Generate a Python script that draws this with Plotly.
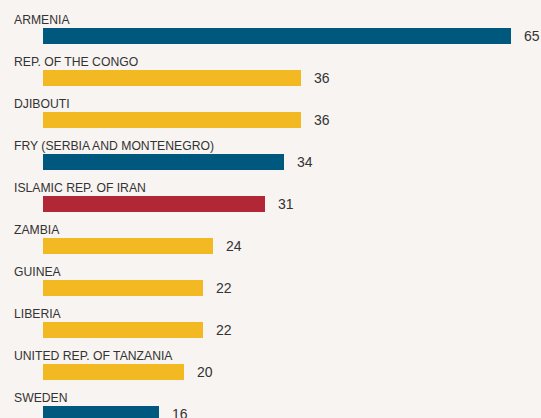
import plotly.graph_objects as go

# ─── Data ─────────────────────────────────────────────────────────────────────

countries = [
    "ARMENIA", "REP. OF THE CONGO", "DJIBOUTI", "FRY (SERBIA AND MONTENEGRO)",
    "ISLAMIC REP. OF IRAN", "ZAMBIA", "GUINEA", "LIBERIA",
    "UNITED REP. OF TANZANIA", "SWEDEN",
]
values = [65, 35.9, 35.8, 33.5, 30.8, 23.6, 22.2, 22.2, 19.6, 16.1]
value_labels = ["65", "36", "36", "34", "31", "24", "22", "22", "20", "16"]
regions = ["Europe", "Africa", "Africa", "Europe", "Asia",
           "Africa", "Africa", "Africa", "Africa", "Europe"]

REGION_COLORS = {
    "Europe": "#00587f",
    "Africa": "#f2b923",
    "Asia":   "#b22735",
}
BG = "#f8f4f1"
TEXT = "#333333"

positions = list(range(len(countries)))

# ─── Figure ───────────────────────────────────────────────────────────────────

fig = go.Figure(go.Bar(
    x=values, y=positions, orientation="h",
    marker=dict(color=[REGION_COLORS[r] for r in regions], line_width=0),
    width=0.38,
    hoverinfo="skip",
))

for pos, name, val, lab in zip(positions, countries, values, value_labels):
    # country name above the bar
    fig.add_annotation(
        x=0, y=pos - 0.37, xref="x", yref="y",
        text=name, showarrow=False, xanchor="left", yanchor="middle",
        xshift=-31, font=dict(size=12.2, color=TEXT),
    )
    # value to the right of the bar
    fig.add_annotation(
        x=val, y=pos, xref="x", yref="y",
        text=lab, showarrow=False, xanchor="left", yanchor="middle",
        xshift=11, font=dict(size=14, color=TEXT),
    )

fig.update_layout(
    width=541, height=418,
    margin=dict(l=43, r=0, t=0, b=0),
    plot_bgcolor=BG, paper_bgcolor=BG,
    font=dict(family="Liberation Sans, Arial, sans-serif", color=TEXT),
    showlegend=False,
    xaxis=dict(range=[0, 498 / 7.2], visible=False, fixedrange=True),
    yaxis=dict(range=[9.095, -0.857], visible=False, fixedrange=True),
    bargap=0,
)

fig.write_html(
    "out.html",
    config={"displayModeBar": False},
    post_script="document.body.style.margin='0';"
                "document.body.style.overflow='hidden';"
                "document.body.style.background='" + BG + "';",
)
